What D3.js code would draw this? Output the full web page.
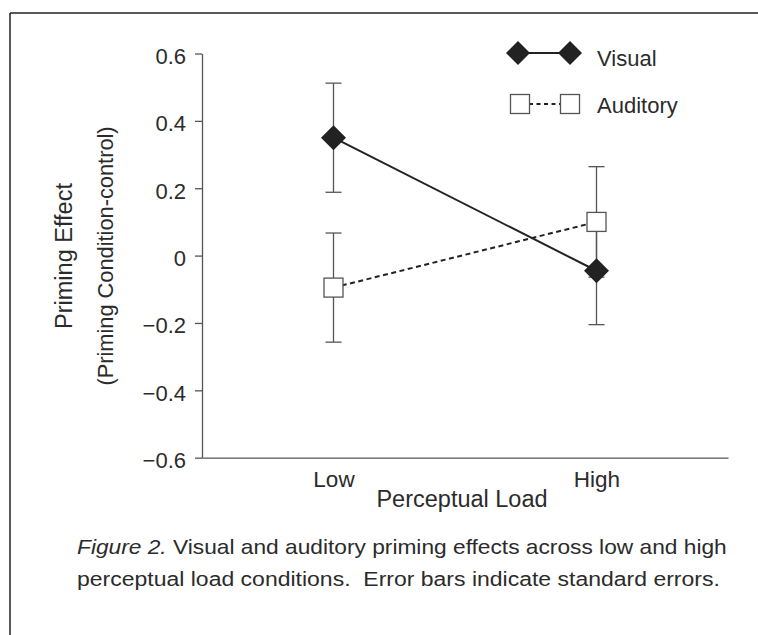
<!DOCTYPE html>
<html>
<head>
<meta charset="utf-8">
<script src="https://cdn.jsdelivr.net/npm/d3@7"></script>
<style>
  body { margin: 0; background: #fff; }
  svg { display: block; font-family: "Liberation Sans", Arial, sans-serif; }
  .cap { white-space: pre; }
</style>
</head>
<body>
<svg id="chart" width="758" height="635"></svg>
<script>
'use strict';

// data
var categories = ["Low", "High"];
var visualMeans = [0.35, -0.045];
var visualSE = [0.162, 0.16];
var auditoryMeans = [-0.095, 0.1];
var auditorySE = [0.162, 0.164];
var yTicks = [-0.6, -0.4, -0.2, 0, 0.2, 0.4, 0.6];
var seriesNames = ["Visual", "Auditory"];

var ink = "#222";
var grey = "#555";
var textCol = "#2b2b2b";

var svg = d3.select("#chart");

// frame around the figure (top and left only visible)
svg.append("line").attr("x1", 10).attr("x2", 758).attr("y1", 13).attr("y2", 13)
   .attr("stroke", ink).attr("stroke-width", 1.5);
svg.append("line").attr("x1", 10).attr("x2", 10).attr("y1", 13).attr("y2", 635)
   .attr("stroke", ink).attr("stroke-width", 1.5);

var x = d3.scalePoint().domain(categories).range([202, 728]).padding(0.5);
var y = d3.scaleLinear().domain([-0.6, 0.6]).range([457.7, 53.5]);

// y axis
var yAxis = svg.append("g")
   .attr("transform", "translate(202,0)")
   .call(d3.axisLeft(y).tickValues(yTicks).tickSize(7).tickSizeOuter(0).tickPadding(9)
      .tickFormat(function(d) { return Math.abs(d) < 1e-9 ? "0" : d3.format(".1f")(d); }));
yAxis.select(".domain").attr("stroke", grey).attr("stroke-width", 1.3);
yAxis.selectAll(".tick line").attr("stroke", grey).attr("stroke-width", 1.3);
yAxis.selectAll(".tick text").attr("fill", textCol).attr("font-size", 22)
   .attr("font-family", "'Liberation Sans', Arial, sans-serif").attr("dy", "0.45em");

// x axis: just the baseline and category names
var xAxis = svg.append("g")
   .attr("transform", "translate(0,457.7)")
   .call(d3.axisBottom(x).tickSize(0).tickSizeOuter(0).tickPadding(0));
xAxis.select(".domain").attr("stroke", grey).attr("stroke-width", 1.3);
xAxis.selectAll(".tick text").attr("fill", textCol).attr("font-size", 22.5)
   .attr("font-family", "'Liberation Sans', Arial, sans-serif")
   .attr("dy", null).attr("y", 29);

svg.append("text").attr("x", 462).attr("y", 507).attr("text-anchor", "middle")
   .attr("font-size", 23.5).attr("fill", textCol).text("Perceptual Load");

// y title, two lines
var yTitle = svg.append("g").attr("transform", "translate(0,256) rotate(-90)");
yTitle.append("text").attr("x", 0).attr("y", 72).attr("text-anchor", "middle")
   .attr("font-size", 23.5).attr("fill", textCol).text("Priming Effect");
yTitle.append("text").attr("x", 0).attr("y", 113).attr("text-anchor", "middle")
   .attr("font-size", 21.8).attr("fill", textCol).text("(Priming Condition-control)");

function rows(means, se) {
   return categories.map(function(c, i) { return { cat: c, m: means[i], se: se[i] }; });
}
var visual = rows(visualMeans, visualSE);
var auditory = rows(auditoryMeans, auditorySE);

// error bars
function errorBars(data) {
   var g = svg.append("g").attr("stroke", grey).attr("stroke-width", 1.3);
   data.forEach(function(d) {
      var cx = x(d.cat), top = y(d.m + d.se), bot = y(d.m - d.se);
      g.append("line").attr("x1", cx).attr("x2", cx).attr("y1", top).attr("y2", bot);
      g.append("line").attr("x1", cx - 8).attr("x2", cx + 8).attr("y1", top).attr("y2", top);
      g.append("line").attr("x1", cx - 8).attr("x2", cx + 8).attr("y1", bot).attr("y2", bot);
   });
}
errorBars(visual);
errorBars(auditory);

var line = d3.line().x(function(d) { return x(d.cat); }).y(function(d) { return y(d.m); });

svg.append("path").datum(auditory).attr("d", line).attr("fill", "none")
   .attr("stroke", ink).attr("stroke-width", 2).attr("stroke-dasharray", "5,3.5");
svg.append("path").datum(visual).attr("d", line).attr("fill", "none")
   .attr("stroke", ink).attr("stroke-width", 2);

var diamond = "M0,-12.5L12.5,0L0,12.5L-12.5,0Z";
var sq = 19;

svg.selectAll(".aud").data(auditory).enter().append("rect")
   .attr("class", "aud")
   .attr("x", function(d) { return x(d.cat) - sq / 2; })
   .attr("y", function(d) { return y(d.m) - sq / 2; })
   .attr("width", sq).attr("height", sq)
   .attr("fill", "#fff").attr("stroke", grey).attr("stroke-width", 1.3);

svg.selectAll(".vis").data(visual).enter().append("path")
   .attr("class", "vis")
   .attr("d", diamond)
   .attr("transform", function(d) { return "translate(" + x(d.cat) + "," + y(d.m) + ")"; })
   .attr("fill", ink);

// legend
var lg = svg.append("g");
lg.append("line").attr("x1", 518).attr("x2", 570).attr("y1", 53).attr("y2", 53)
   .attr("stroke", ink).attr("stroke-width", 2);
[518, 570].forEach(function(cx) {
   lg.append("path").attr("d", "M0,-12L12,0L0,12L-12,0Z")
      .attr("transform", "translate(" + cx + ",53)").attr("fill", ink);
});
lg.append("line").attr("x1", 529).attr("x2", 560).attr("y1", 104).attr("y2", 104)
   .attr("stroke", ink).attr("stroke-width", 2).attr("stroke-dasharray", "4,3.5");
[520, 570].forEach(function(cx) {
   lg.append("rect").attr("x", cx - 9.5).attr("y", 94.5).attr("width", sq).attr("height", sq)
      .attr("fill", "#fff").attr("stroke", grey).attr("stroke-width", 1.3);
});
lg.append("text").attr("x", 597).attr("y", 66).attr("font-size", 22).attr("fill", textCol).text(seriesNames[0]);
lg.append("text").attr("x", 597).attr("y", 113).attr("font-size", 22).attr("fill", textCol).text(seriesNames[1]);

// caption, squeezed to the condensed width of the original
function captionLine(yPos, width, parts) {
   var t = svg.append("text").attr("class", "cap").attr("x", 0).attr("y", 0)
      .attr("font-size", 21).attr("fill", textCol);
   parts.forEach(function(p) {
      t.append("tspan").attr("font-style", p.italic ? "italic" : "normal").text(p.text);
   });
   var w = t.node().getComputedTextLength();
   t.attr("transform", "translate(77," + yPos + ") scale(" + (width / w) + ",1)");
}
captionLine(554, 650, [
   { text: "Figure 2.", italic: true },
   { text: " Visual and auditory priming effects across low and high" }
]);
captionLine(586, 643, [
   { text: "perceptual load conditions.  Error bars indicate standard errors." }
]);
</script>
</body>
</html>
